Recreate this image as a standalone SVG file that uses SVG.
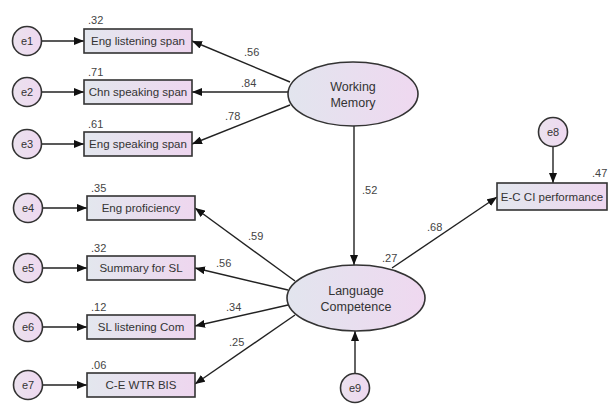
<svg xmlns="http://www.w3.org/2000/svg" width="608" height="410" viewBox="0 0 608 410">
<defs>
<linearGradient id="gBox" x1="0" y1="0" x2="1" y2="0">
<stop offset="0" stop-color="#e3e7ee"/>
<stop offset="1" stop-color="#eed6ef"/>
</linearGradient>
<linearGradient id="gEll" x1="0" y1="0" x2="1" y2="0">
<stop offset="0" stop-color="#e2e5ee"/>
<stop offset="1" stop-color="#efd8f0"/>
</linearGradient>
<linearGradient id="gCir" x1="0" y1="0" x2="1" y2="0">
<stop offset="0" stop-color="#ebe2ee"/>
<stop offset="1" stop-color="#eed8f0"/>
</linearGradient>
<marker id="ah" viewBox="0 0 10 8" refX="10" refY="4" markerWidth="10" markerHeight="8" markerUnits="userSpaceOnUse" orient="auto">
<path d="M0,0 L10,4 L0,8 Z" fill="#111"/>
</marker>
<style>
.box{fill:url(#gBox);stroke:#333;stroke-width:1.6}
.ell{fill:url(#gEll);stroke:#333;stroke-width:1.6}
.cir{fill:url(#gCir);stroke:#333;stroke-width:1.6}
.t{font-family:"Liberation Sans",Arial,sans-serif;font-size:11.5px;fill:#333;text-anchor:middle}
.e{font-family:"Liberation Sans",Arial,sans-serif;font-size:11px;fill:#333;text-anchor:middle}
.lt{font-family:"Liberation Sans",Arial,sans-serif;font-size:12.5px;fill:#333;text-anchor:middle}
.n{font-family:"Liberation Sans",Arial,sans-serif;font-size:11px;fill:#444}
.c line{stroke:#222;stroke-width:1.4;marker-end:url(#ah)}
</style>
</defs>
<rect width="608" height="410" fill="#fff"/>

<g class="c" id="connectors">
<line x1="41.5" y1="41" x2="84" y2="41"/>
<line x1="41.5" y1="92" x2="84" y2="92"/>
<line x1="41.5" y1="144" x2="84" y2="144"/>
<line x1="42.5" y1="208" x2="87" y2="208"/>
<line x1="42.5" y1="268" x2="87" y2="268"/>
<line x1="42.5" y1="327" x2="87" y2="327"/>
<line x1="42.5" y1="385" x2="87" y2="385"/>
<line x1="290" y1="82" x2="192" y2="41"/>
<line x1="288" y1="92" x2="192" y2="92"/>
<line x1="290" y1="105" x2="192" y2="144"/>
<line x1="295" y1="281" x2="195" y2="208"/>
<line x1="288" y1="290" x2="195" y2="268"/>
<line x1="288" y1="305" x2="195" y2="326"/>
<line x1="295" y1="315" x2="195" y2="384"/>
<line x1="354" y1="126" x2="354" y2="265"/>
<line x1="355" y1="373.5" x2="355" y2="331"/>
<line x1="553" y1="146.5" x2="553" y2="183"/>
<line x1="392" y1="268" x2="497" y2="197"/>
</g>

<g id="e1"><circle class="cir" cx="27" cy="41" r="14.5"/><text class="e" x="27" y="45">e1</text></g>
<g id="e2"><circle class="cir" cx="27" cy="92" r="14.5"/><text class="e" x="27" y="96">e2</text></g>
<g id="e3"><circle class="cir" cx="27" cy="144" r="14.5"/><text class="e" x="27" y="148">e3</text></g>
<g id="e4"><circle class="cir" cx="28" cy="208" r="14.5"/><text class="e" x="28" y="212">e4</text></g>
<g id="e5"><circle class="cir" cx="28" cy="268" r="14.5"/><text class="e" x="28" y="272">e5</text></g>
<g id="e6"><circle class="cir" cx="28" cy="327" r="14.5"/><text class="e" x="28" y="331">e6</text></g>
<g id="e7"><circle class="cir" cx="28" cy="385" r="14.5"/><text class="e" x="28" y="389">e7</text></g>
<g id="e8"><circle class="cir" cx="553" cy="132" r="14.5"/><text class="e" x="553" y="136">e8</text></g>
<g id="e9"><circle class="cir" cx="355" cy="388" r="14.5"/><text class="e" x="355" y="392">e9</text></g>

<g id="eng-listening-span"><rect class="box" x="84" y="29" width="108" height="24"/><text class="t" x="138" y="45">Eng listening span</text><text class="n" x="88" y="24">.32</text></g>
<g id="chn-speaking-span"><rect class="box" x="84" y="80" width="108" height="24"/><text class="t" x="138" y="96">Chn speaking span</text><text class="n" x="88" y="76">.71</text></g>
<g id="eng-speaking-span"><rect class="box" x="84" y="132" width="108" height="24"/><text class="t" x="138" y="148">Eng speaking span</text><text class="n" x="88" y="128">.61</text></g>

<g id="eng-proficiency"><rect class="box" x="87" y="196" width="108" height="24"/><text class="t" x="141" y="212">Eng proficiency</text><text class="n" x="91" y="192">.35</text></g>
<g id="summary-for-sl"><rect class="box" x="87" y="256" width="108" height="24"/><text class="t" x="141" y="272">Summary for SL</text><text class="n" x="91" y="252">.32</text></g>
<g id="sl-listening-com"><rect class="box" x="87" y="315" width="108" height="24"/><text class="t" x="141" y="331">SL listening Com</text><text class="n" x="91" y="311">.12</text></g>
<g id="ce-wtr-bis"><rect class="box" x="87" y="373" width="108" height="24"/><text class="t" x="141" y="389">C-E WTR BIS</text><text class="n" x="91" y="369">.06</text></g>

<g id="ec-ci-performance"><rect class="box" x="497" y="183" width="110" height="27"/><text class="t" x="552" y="200.5">E-C CI performance</text><text class="n" x="592" y="177">.47</text></g>

<g id="working-memory"><ellipse class="ell" cx="353" cy="94" rx="65" ry="32"/><text class="lt" x="353" y="91">Working</text><text class="lt" x="353" y="107">Memory</text></g>
<g id="language-competence"><ellipse class="ell" cx="356" cy="298" rx="69" ry="33"/><text class="lt" x="356" y="295">Language</text><text class="lt" x="356" y="311">Competence</text></g>

<g id="path-labels">
<text class="n" x="244" y="56">.56</text>
<text class="n" x="241" y="87">.84</text>
<text class="n" x="225" y="120">.78</text>
<text class="n" x="248" y="240">.59</text>
<text class="n" x="216" y="267">.56</text>
<text class="n" x="226" y="311">.34</text>
<text class="n" x="229" y="346">.25</text>
<text class="n" x="362" y="194">.52</text>
<text class="n" x="427" y="231">.68</text>
<text class="n" x="382" y="262">.27</text>
</g>
</svg>
